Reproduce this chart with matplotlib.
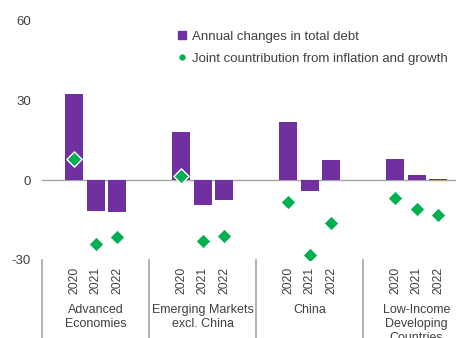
import numpy as np
import matplotlib
matplotlib.use('Agg')
import matplotlib.pyplot as plt
from matplotlib.lines import Line2D
import matplotlib.transforms as mtransforms

plt.rcParams['font.family'] = ['Liberation Sans', 'DejaVu Sans']
plt.rcParams['axes.unicode_minus'] = False

groups = ['Advanced\nEconomies', 'Emerging Markets\nexcl. China', 'China',
          'Low-Income\nDeveloping\nCountries']
years = ['2020', '2021', '2022']
debt_change = [[32.5, -11.5, -12.0],
               [18.0, -9.5, -7.5],
               [22.0, -4.0, 7.5],
               [8.0, 2.0, 0.5]]
inflation_growth = [[8.0, -24.0, -21.5],
                    [1.5, -23.0, -21.0],
                    [-8.3, -28.0, -16.0],
                    [-6.8, -11.0, -13.0]]

purple = '#7030A0'
green = '#00B050'
grey_text = '#404040'
line_grey = '#A6A6A6'

fig = plt.figure(figsize=(4.58, 3.38), dpi=100)
ax = fig.add_axes([0.092, 0.231, 0.904, 0.707])

group_width = 5
for i, (d, g) in enumerate(zip(debt_change, inflation_growth)):
    xs = i * group_width + np.array([1.5, 2.5, 3.5])
    ax.bar(xs, d, width=0.84, color=purple, zorder=2)
    ax.scatter(xs, g, marker='D', s=60, color=green, edgecolor='white',
               linewidth=1.0, zorder=3)

ax.set_xlim(0, 19.35)
ax.set_ylim(-30, 60)
ax.set_yticks([-30, 0, 30, 60])
ax.tick_params(axis='y', length=0, pad=8, labelsize=9.5, labelcolor=grey_text)
ax.set_xticks([])
for s in ax.spines.values():
    s.set_visible(False)
ax.axhline(0, color=line_grey, linewidth=1.0, zorder=1)

trans = mtransforms.blended_transform_factory(ax.transData, ax.transAxes)
for i in range(4):
    x0 = i * group_width
    ax.plot([x0, x0], [0, -0.35], transform=trans, color=line_grey,
            linewidth=1.2, clip_on=False)
    for j, yr in enumerate(years):
        ax.text(x0 + 1.5 + j, -0.03, yr, transform=trans, rotation=90,
                ha='center', va='top', fontsize=8.8, color=grey_text)
    ax.text(x0 + 2.5, -0.185, groups[i], transform=trans, ha='center',
            va='top', fontsize=9, color=grey_text, linespacing=1.2)

handles = [Line2D([], [], linestyle='none', marker='s', markersize=5.5,
                  color=purple),
           Line2D([], [], linestyle='none', marker='o', markersize=3.5,
                  color=green)]
labels = ['Annual changes in total debt',
          'Joint countribution from inflation and growth']
fig.legend(handles, labels, loc='upper left', bbox_to_anchor=(0.378, 0.925),
           frameon=False, fontsize=9.5, labelcolor=grey_text, handlelength=0.6,
           handletextpad=0.4, labelspacing=0.75, borderaxespad=0)

fig.savefig('out.png', dpi=100)
